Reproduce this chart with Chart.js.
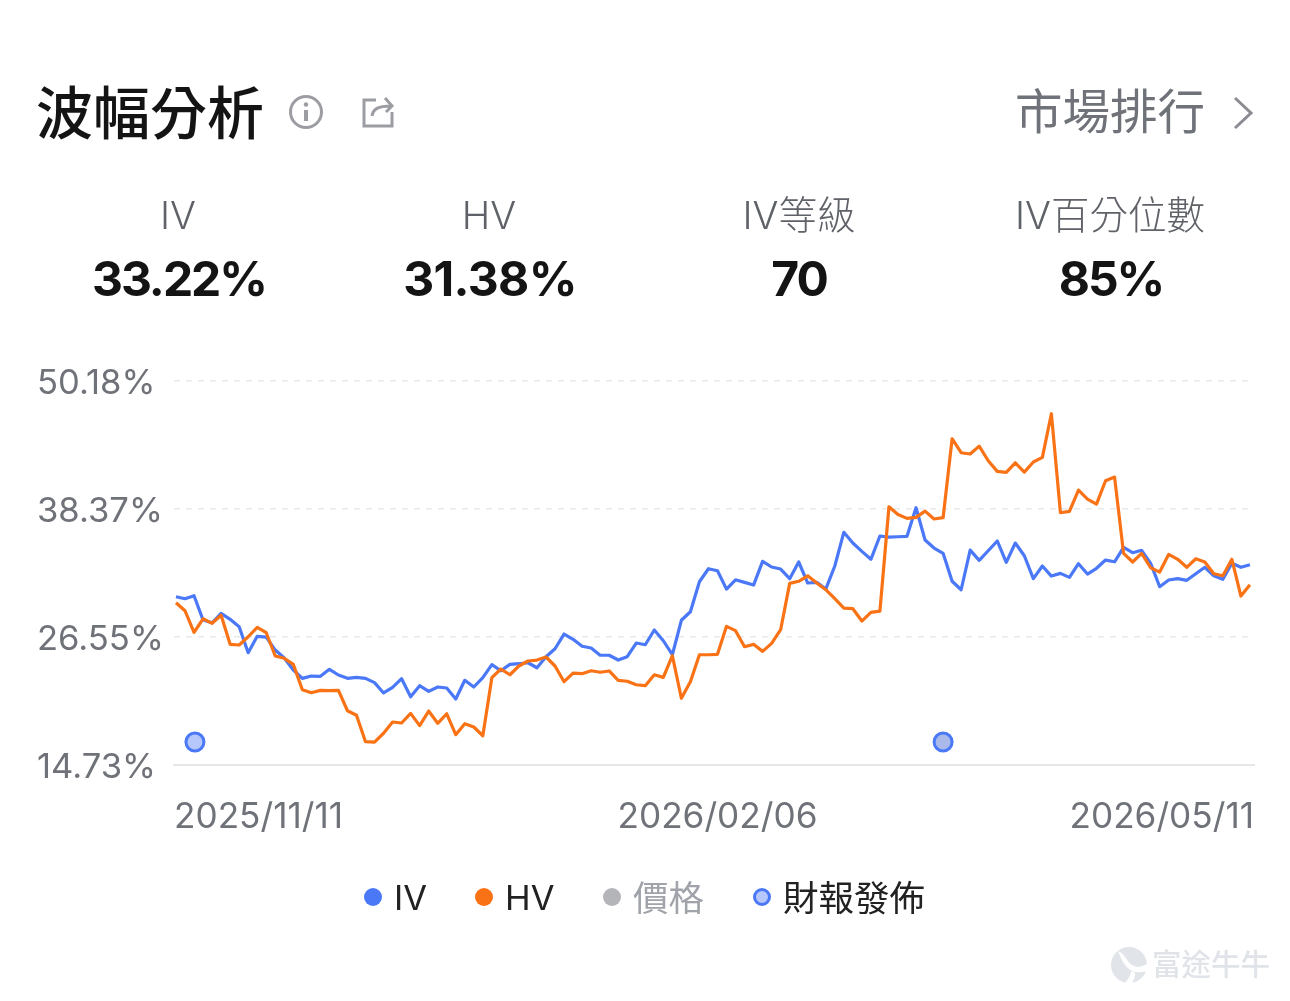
<!DOCTYPE html>
<html lang="zh-Hant">
<head>
<meta charset="utf-8">
<title>波幅分析</title>
<script src="https://cdn.jsdelivr.net/npm/chart.js@4"></script>
<style>
  html, body { margin: 0; background: #fff; overflow: hidden; }
  body { width: 1290px; height: 1001px; position: relative; font-family: Inter, "Noto Sans CJK TC", sans-serif; }
  #myChart { position: absolute; left: 0; top: 0; }
  .txt { position: absolute; white-space: nowrap; line-height: 1; }
  .title { left: 36px; top: 85px; font-size: 57px; font-weight: 500; color: #141414; }
  .rank { right: 85px; top: 88px; font-size: 47.5px; color: #6f7278; }
  .stat-name { top: 196px; font-size: 38.5px; font-weight: 300; color: #5f6268; transform: translateX(-50%); }
  .stat-value { top: 255px; font-size: 48px; font-weight: 700; color: #141414; letter-spacing: -2px; transform: translateX(-50%); }
  .legend-item { top: 881px; font-size: 35.5px; font-weight: 400; color: #222; }
  .legend-item.latin { font-size: 34.5px; }
  .dot { position: absolute; top: 888px; width: 18px; height: 18px; border-radius: 50%; box-sizing: border-box; }
  .logo-text { left: 1152px; top: 950px; font-size: 29.5px; font-weight: 500; color: #e0e4e9; }
  svg { position: absolute; overflow: visible; }
</style>
</head>
<body>
<canvas id="myChart" width="1290" height="1001"></canvas>

<div class="txt title">波幅分析</div>
<svg style="left:288px;top:94px" width="36" height="36" fill="none" stroke="#9b9da3" stroke-width="3">
  <circle cx="18" cy="18" r="15.5"/>
  <line x1="18" y1="16" x2="18" y2="27" stroke-width="4"/>
  <circle cx="18" cy="10.5" r="2.2" fill="#9b9da3" stroke="none"/>
</svg>
<svg style="left:362px;top:95px" width="34" height="34" fill="none" stroke="#9b9da3" stroke-width="3">
  <path d="M14 5 H2 V31 H30 V17"/>
  <path d="M10 21 C11 14 16 11 29 11 M23 3 L30 11 L24 17"/>
</svg>
<div class="txt rank">市場排行</div>
<svg style="left:1232px;top:96px" width="24" height="34" fill="none" stroke="#8a8c92" stroke-width="3">
  <path d="M3 2 L19 17 L3 32"/>
</svg>

<div class="txt stat-name" style="left:178px">IV</div>
<div class="txt stat-name" style="left:489px">HV</div>
<div class="txt stat-name" style="left:799px">IV等級</div>
<div class="txt stat-name" style="left:1110px">IV百分位數</div>
<div class="txt stat-value" style="left:179px">33.22%</div>
<div class="txt stat-value" style="left:490px;letter-spacing:-0.7px">31.38%</div>
<div class="txt stat-value" style="left:799px">70</div>
<div class="txt stat-value" style="left:1111px">85%</div>

<div class="dot" style="left:364px;background:#4a78f7"></div>
<div class="txt legend-item latin" style="left:394px">IV</div>
<div class="dot" style="left:475px;background:#f97316"></div>
<div class="txt legend-item latin" style="left:505px">HV</div>
<div class="dot" style="left:603px;background:#b4b5b9"></div>
<div class="txt legend-item" style="left:633px;color:#a0a3a9">價格</div>
<div class="dot" style="left:753px;background:#b5c7fb;border:3px solid #4a78f7"></div>
<div class="txt legend-item" style="left:783px">財報發佈</div>

<svg style="left:1110px;top:947px" width="38" height="38">
  <circle cx="19" cy="18" r="18" fill="#e1e5ea"/>
  <path d="M8 4 C16 8 16 14 22 18 C27 21 32 20 37 17 L37 24 C30 26 24 26 19 22 C13 17 11 11 8 4 Z" fill="#fff"/>
  <path d="M15 36 C20 30 21 27 21 24 L25 26 C25 30 24 33 22 36 Z" fill="#fff"/>
</svg>
<div class="txt logo-text">富途牛牛</div>

<script>
// implied volatility, one value per session
const ivValues = [
  30.26, 30.08, 30.36, 28.11, 27.86, 28.73, 28.18, 27.50, 25.10, 26.61,
  26.54, 25.34, 24.61, 23.50, 22.73, 22.94, 22.92, 23.56, 23.04, 22.73,
  22.82, 22.73, 22.33, 21.38, 21.90, 22.70, 21.03, 22.05, 21.53, 21.93,
  21.84, 20.82, 22.55, 21.93, 22.79, 23.99, 23.43, 24.02, 24.08, 24.17,
  23.71, 24.73, 25.46, 26.82, 26.33, 25.69, 25.53, 24.86, 24.86, 24.42,
  24.73, 25.99, 25.83, 27.19, 26.20, 24.91, 28.09, 28.88, 31.65, 32.85,
  32.66, 30.97, 31.83, 31.59, 31.34, 33.53, 33.01, 32.82, 31.93, 33.47,
  31.53, 31.59, 30.97, 33.10, 36.21, 35.22, 34.45, 33.72, 35.87, 35.77,
  35.80, 35.84, 38.48, 35.50, 34.76, 34.27, 31.69, 30.91, 34.57, 33.62,
  34.51, 35.41, 33.44, 35.22, 34.05, 31.93, 33.10, 32.17, 32.42, 32.05,
  33.31, 32.36, 32.89, 33.65, 33.49, 34.82, 34.33, 34.55, 33.35, 31.19,
  31.81, 31.93, 31.78, 32.39, 32.98, 32.20, 31.87, 33.35, 32.98, 33.22
];

// historical volatility
const hvValues = [
  29.71, 28.97, 26.98, 28.23, 27.81, 28.55, 25.87, 25.81, 26.57, 27.44,
  26.94, 24.79, 24.58, 24.02, 21.68, 21.40, 21.62, 21.59, 21.62, 19.74,
  19.32, 16.88, 16.85, 17.66, 18.70, 18.61, 19.50, 18.36, 19.71, 18.58,
  19.46, 17.53, 18.54, 18.24, 17.43, 22.79, 23.59, 23.06, 23.87, 24.33,
  24.42, 24.70, 23.87, 22.42, 23.22, 23.16, 23.43, 23.29, 23.41, 22.55,
  22.46, 22.14, 22.05, 23.06, 22.82, 24.82, 20.89, 22.42, 24.91, 24.91,
  24.95, 27.53, 27.13, 25.65, 25.87, 25.22, 25.96, 27.22, 31.50, 31.69,
  32.20, 31.53, 30.91, 30.08, 29.22, 29.16, 28.02, 28.82, 28.94, 38.57,
  37.85, 37.50, 37.59, 38.17, 37.44, 37.56, 44.85, 43.56, 43.44, 44.17,
  42.82, 41.84, 41.75, 42.63, 41.77, 42.70, 43.13, 47.16, 38.02, 38.15,
  40.11, 39.28, 38.82, 40.97, 41.31, 34.27, 33.47, 34.27, 32.94, 32.54,
  34.18, 33.72, 32.98, 33.77, 33.47, 32.39, 32.20, 33.72, 30.33, 31.38
];

// earnings dates sit on a fixed level near the bottom of the plot
const earningsIndex = [2.1, 85];
const earningsLevel = [16.85, 16.85];

const yTicks = [14.73, 26.55, 38.37, 50.18];
const xTickLabels = ['2025/11/11', '2026/02/06', '2026/05/11'];

const xMin = -0.22;
const xMax = 119.45;
const xTickValues = [xMin, 60, xMax];

const points = values => values.map((v, i) => ({ x: i, y: v }));

const fontFamily = 'Inter, "Noto Sans CJK TC", sans-serif';

new Chart(document.getElementById('myChart'), {
  type: 'line',
  data: {
    datasets: [
      {
        label: '財報發佈',
        data: earningsIndex.map((x, i) => ({ x: x, y: earningsLevel[i] })),
        showLine: false,
        order: 0,
        pointRadius: 9,
        pointBorderWidth: 3,
        pointBorderColor: '#4a78f7',
        pointBackgroundColor: ['#b5c7fb', '#a9baea']
      },
      {
        label: 'HV',
        data: points(hvValues),
        borderColor: '#f97316',
        borderWidth: 3.2,
        borderJoinStyle: 'round',
        pointRadius: 0,
        order: 1
      },
      {
        label: 'IV',
        data: points(ivValues),
        borderColor: '#4a78f7',
        borderWidth: 3.2,
        borderJoinStyle: 'round',
        pointRadius: 0,
        order: 2
      }
    ]
  },
  options: {
    responsive: false,
    animation: false,
    layout: { padding: { left: 37, right: 36, top: 381, bottom: 166 } },
    plugins: { legend: { display: false }, tooltip: { enabled: false } },
    scales: {
      x: {
        type: 'linear',
        min: xMin,
        max: xMax,
        grid: { display: false },
        border: { display: true, color: '#e6e7e9', width: 2 },
        afterBuildTicks: scale => { scale.ticks = xTickValues.map(v => ({ value: v })); },
        afterFit: scale => {
          scale.height = 70;
          scale.paddingLeft = 0;
          scale.paddingRight = 0;
        },
        ticks: {
          autoSkip: false,
          maxRotation: 0,
          align: 'inner',
          padding: 23,
          color: '#6f7278',
          font: { family: fontFamily, size: 35.2 },
          callback: (value, index) => xTickLabels[index]
        }
      },
      y: {
        min: yTicks[0],
        max: yTicks[yTicks.length - 1],
        afterBuildTicks: scale => { scale.ticks = yTicks.map(v => ({ value: v })); },
        afterFit: scale => { scale.width = 137; },
        grid: { color: '#e8e9eb', lineWidth: 1.5, drawTicks: false },
        border: { display: false, dash: [6, 6] },
        ticks: {
          crossAlign: 'far',
          labelOffset: 3,
          color: '#6f7278',
          font: { family: fontFamily, size: 34.6 },
          callback: value => value.toFixed(2) + '%'
        }
      }
    }
  }
});
</script>
</body>
</html>
